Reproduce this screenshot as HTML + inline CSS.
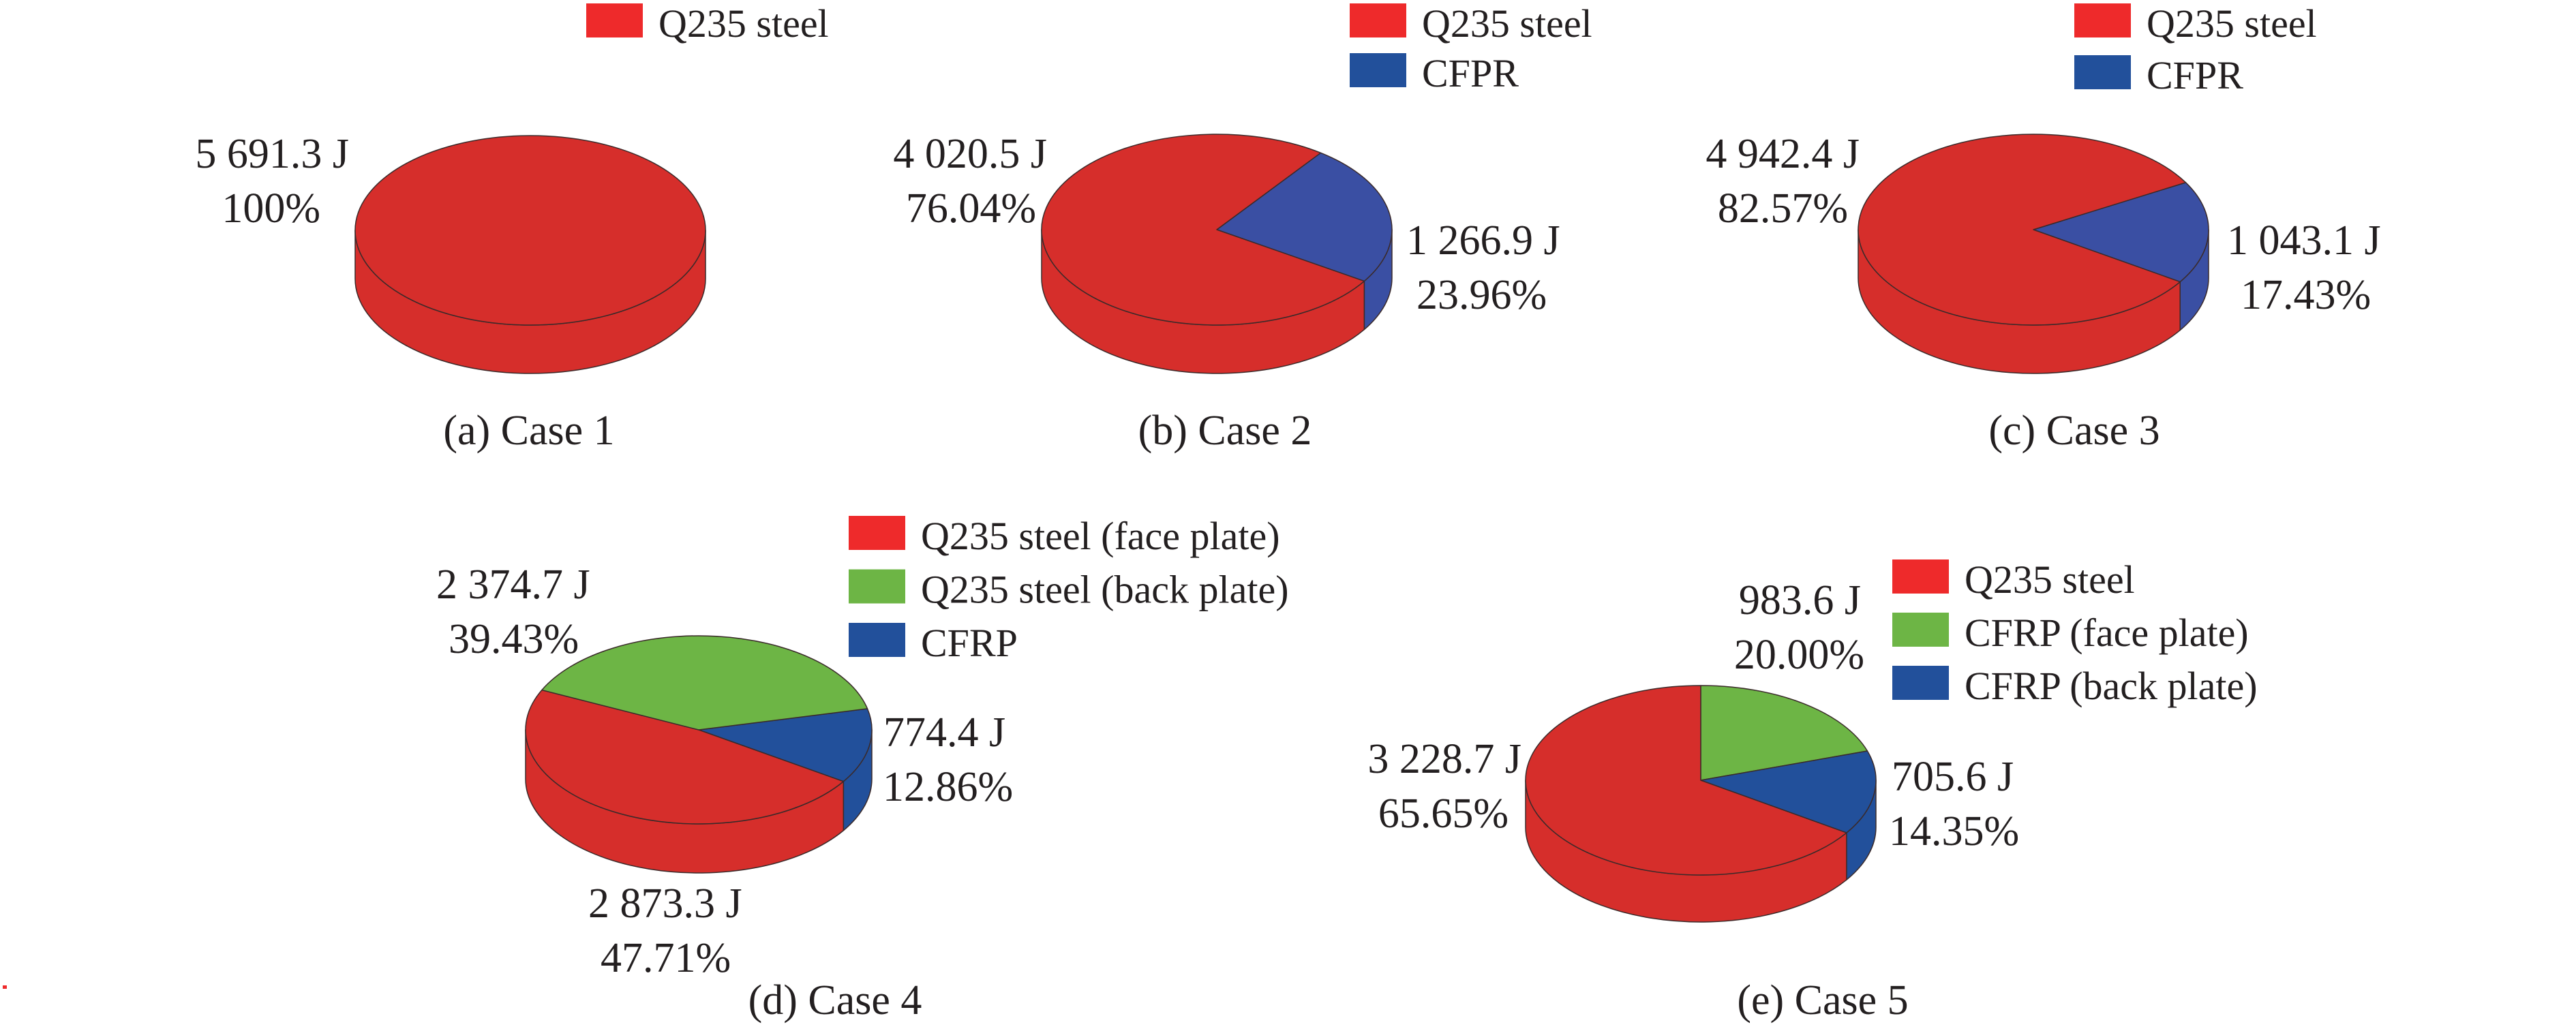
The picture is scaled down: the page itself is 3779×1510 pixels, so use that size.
<!DOCTYPE html>
<html><head><meta charset="utf-8"><style>
html,body{margin:0;padding:0;background:#fff;}
svg{display:block;}
svg text{font-family:"Liberation Serif","Times New Roman","DejaVu Serif",serif !important;fill:#231f20;}
</style></head><body>
<svg id="chart" width="3779" height="1510" viewBox="0 0 3779 1510" xmlns="http://www.w3.org/2000/svg"></svg>
<script>
// ---- data ----
const case1Values = [5691.3];
const case2Values = [1266.9, 4020.5];
const case3Values = [1043.1, 4942.4];
const case4Values = [774.4, 2873.3, 2374.7];
const case5Values = [983.6, 705.6, 3228.7];
const case1Materials = ["Q235 steel"];
const case2Materials = ["CFPR", "Q235 steel"];
const case3Materials = ["CFPR", "Q235 steel"];
const case4Materials = ["CFRP", "Q235 steel (face plate)", "Q235 steel (back plate)"];
const case5Materials = ["CFRP (face plate)", "CFRP (back plate)", "Q235 steel"];
const case1Labels = [["5 691.3 J", "100%"]];
const case2Labels = [["1 266.9 J", "23.96%"], ["4 020.5 J", "76.04%"]];
const case3Labels = [["1 043.1 J", "17.43%"], ["4 942.4 J", "82.57%"]];
const case4Labels = [["774.4 J", "12.86%"], ["2 873.3 J", "47.71%"], ["2 374.7 J", "39.43%"]];
const case5Labels = [["983.6 J", "20.00%"], ["705.6 J", "14.35%"], ["3 228.7 J", "65.65%"]];
const legend1 = ["Q235 steel"];
const legend2 = ["Q235 steel", "CFPR"];
const legend3 = ["Q235 steel", "CFPR"];
const legend4 = ["Q235 steel (face plate)", "Q235 steel (back plate)", "CFRP"];
const legend5 = ["Q235 steel", "CFRP (face plate)", "CFRP (back plate)"];
const captions = ["(a) Case 1", "(b) Case 2", "(c) Case 3", "(d) Case 4", "(e) Case 5"];

const NS = "http://www.w3.org/2000/svg";
const svg = document.getElementById("chart");
const RED = "#d62e2b", BLUE = "#3a4fa3", BLUE2 = "#22509b", GREEN = "#6db545";
const LRED = "#ee2a2b";
const FONT = '"Liberation Serif", "Times New Roman", "DejaVu Serif", serif';

function mk(tag, attrs, parent) {
  const e = document.createElementNS(NS, tag);
  for (const k in attrs) e.setAttribute(k, attrs[k]);
  (parent || svg).appendChild(e);
  return e;
}
function txt(str, x, y, size, anchor, name, parent) {
  const t = mk("text", {x: x, y: y, "font-size": size, "text-anchor": anchor, "font-family": FONT}, parent);
  
  
  t.textContent = str;
  return t;
}

function drawPie(cfg) {
  const g = mk("g", {});
  
  
  const total = cfg.values.reduce((a, b) => a + b, 0);
  const cx = cfg.cx, cy = cfg.cy, rx = cfg.rx, ry = cfg.ry, d = cfg.depth;
  const P = (a, dy) => [cx + rx * Math.cos(a * Math.PI / 180), cy + ry * Math.sin(a * Math.PI / 180) + (dy || 0)];
  let ang = cfg.start;
  const slices = cfg.values.map((v, i) => {
    const s = ang, e = ang + v / total * 360;
    ang = e;
    return {s: s, e: e, color: cfg.colors[i], mat: cfg.materials[i]};
  });
  slices.forEach((sl) => {
    for (let k = -1; k <= 1; k++) {
      const lo = Math.max(sl.s, 360 * k), hi = Math.min(sl.e, 360 * k + 180);
      if (hi - lo > 0.01) {
        const a = P(lo), b = P(hi), a2 = P(lo, d), b2 = P(hi, d);
        const p = mk("path", {
          d: `M${a[0]},${a[1]} A${rx},${ry} 0 0 1 ${b[0]},${b[1]} L${b2[0]},${b2[1]} A${rx},${ry} 0 0 0 ${a2[0]},${a2[1]} Z`,
          fill: sl.color, stroke: "#3a2a2a", "stroke-width": 1.5, "stroke-linejoin": "round"
        }, g);
        
        
      }
    }
  });
  slices.forEach((sl) => {
    let p;
    if (sl.e - sl.s >= 359.99) {
      p = mk("ellipse", {cx: cx, cy: cy, rx: rx, ry: ry, fill: sl.color, stroke: "#3a2a2a", "stroke-width": 1.5}, g);
    } else {
      const a = P(sl.s), b = P(sl.e);
      const large = (sl.e - sl.s) > 180 ? 1 : 0;
      p = mk("path", {
        d: `M${cx},${cy} L${a[0]},${a[1]} A${rx},${ry} 0 ${large} 1 ${b[0]},${b[1]} Z`,
        fill: sl.color, stroke: "#3a2a2a", "stroke-width": 1.5, "stroke-linejoin": "round"
      }, g);
    }
    
    
  });
  cfg.labels.forEach((lb, i) => {
    const pos = cfg.labelPos[i];
    txt(lb[0], pos[0], pos[1], 62, pos[3], 'value-label', g);
    txt(lb[1], pos[2], pos[1] + 80, 62, pos[3], 'percent-label', g);
  });
  const lg = mk("g", {}, g);
  
  
  cfg.legend.forEach((name, i) => {
    const idx = cfg.materials.indexOf(name);
    const col = cfg.legendColors[idx];
    const y = cfg.legendY + i * cfg.legendStep;
    const r = mk("rect", {x: cfg.legendX, y: y, width: 83, height: 50, fill: col}, lg);
    
    
    txt(name, cfg.legendX + 106, y + 49, 58, "start", 'legend-entry', lg);
  });
  txt(cfg.caption, cfg.capX, cfg.capY, 62, "middle", 'caption', g);
}

drawPie({name: "pie-case-1", values: case1Values, materials: case1Materials, colors: [RED], legendColors: [LRED],
  labels: case1Labels, labelPos: [[512, 246, 470, "end"]], start: -90,
  cx: 778, cy: 338, rx: 257, ry: 139, depth: 71,
  legend: legend1, legendX: 860, legendY: 5, legendStep: 74, caption: captions[0], capX: 776, capY: 652});

drawPie({name: "pie-case-2", values: case2Values, materials: case2Materials, colors: [BLUE, RED], legendColors: ["#22509b", LRED],
  labels: case2Labels, labelPos: [[2063, 373, 2078, "start"], [1536, 246, 1520, "end"]], start: -53.6,
  cx: 1785, cy: 337, rx: 257, ry: 140, depth: 71,
  legend: legend2, legendX: 1980, legendY: 5, legendStep: 73, caption: captions[1], capX: 1797, capY: 652});

drawPie({name: "pie-case-3", values: case3Values, materials: case3Materials, colors: [BLUE, RED], legendColors: ["#22509b", LRED],
  labels: case3Labels, labelPos: [[3267, 373, 3287, "start"], [2728, 246, 2711, "end"]], start: -29.6,
  cx: 2983, cy: 337, rx: 257, ry: 140, depth: 71,
  legend: legend3, legendX: 3043, legendY: 5, legendStep: 76, caption: captions[2], capX: 3043, capY: 652});

drawPie({name: "pie-case-4", values: case4Values, materials: case4Materials, colors: [BLUE2, RED, GREEN], legendColors: [BLUE2, LRED, GREEN],
  labels: case4Labels, labelPos: [[1296, 1095, 1295, "start"], [863, 1346, 881, "start"], [640, 878, 658, "start"]], start: -13,
  cx: 1025, cy: 1071, rx: 254, ry: 138, depth: 72,
  legend: legend4, legendX: 1245, legendY: 757, legendStep: 78.5, caption: captions[3], capX: 1225, capY: 1488});

drawPie({name: "pie-case-5", values: case5Values, materials: case5Materials, colors: [GREEN, BLUE2, RED], legendColors: [GREEN, BLUE2, LRED],
  labels: case5Labels, labelPos: [[2730, 901, 2735, "end"], [2775, 1160, 2771, "start"], [2232, 1134, 2213, "end"]], start: -90,
  cx: 2495, cy: 1145, rx: 257, ry: 139, depth: 69,
  legend: legend5, legendX: 2776, legendY: 821, legendStep: 78, caption: captions[4], capX: 2674, capY: 1488});

const dot = mk("rect", {x: 4, y: 1446, width: 6, height: 5, fill: LRED});


</script>
</body></html>
